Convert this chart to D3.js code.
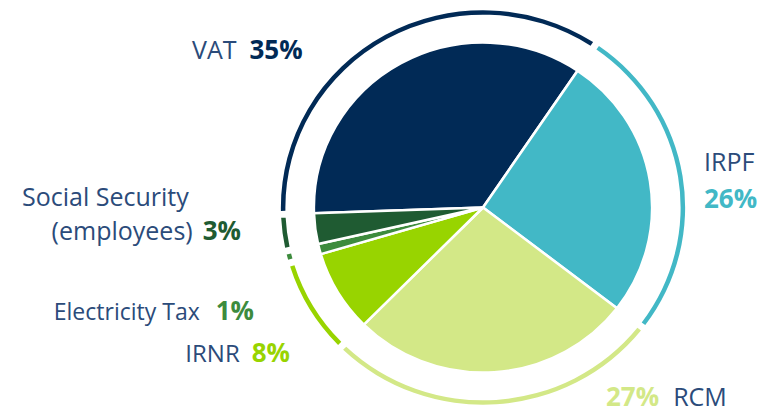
<!DOCTYPE html>
<html>
<head>
<meta charset="utf-8">
<script src="https://cdn.jsdelivr.net/npm/d3@7"></script>
<style>
  html, body { margin: 0; padding: 0; background: #fff; }
  svg { display: block; font-family: 'Open Sans', sans-serif; }
</style>
</head>
<body>
<svg id="chart"></svg>
<script>
// slices, clockwise starting from the VAT slice
const names = ['VAT', 'IRPF', 'RCM', 'IRNR', 'Electricity Tax', 'Social Security'];
const shares = [35, 26, 27, 8, 1, 3];
const colors = ['#012a56', '#42b8c6', '#d3e887', '#98d400', '#3d8b3d', '#1f5b32'];

const width = 776;
const height = 416;
const cx = 483;
const cy = 207.5;
const radius = 165;
const ringRadius = 195;
const stretchX = 1.025; // the original is a touch wider than tall
const startDeg = -92;

const svg = d3.select('#chart').attr('width', width).attr('height', height);
const g = svg.append('g').attr('transform', `translate(${cx}, ${cy}) scale(${stretchX}, 1)`);

const pie = d3.pie()
  .sort(null)
  .value(d => d)
  .startAngle(startDeg * Math.PI / 180)
  .endAngle((startDeg + 360) * Math.PI / 180);
const arcs = pie(shares);

const arc = d3.arc().innerRadius(0).outerRadius(radius);
g.selectAll('path.slice')
  .data(arcs)
  .enter()
  .append('path')
  .attr('class', 'slice')
  .attr('d', arc)
  .attr('fill', (d, i) => colors[i])
  .attr('stroke', '#fff')
  .attr('stroke-width', 2.5)
  .attr('stroke-linejoin', 'round');

// outer ring, one arc per slice with small gaps
const ring = d3.arc()
  .innerRadius(ringRadius - 2.2)
  .outerRadius(ringRadius + 2.2)
  .padAngle(0.025);
g.selectAll('path.ring')
  .data(arcs)
  .enter()
  .append('path')
  .attr('class', 'ring')
  .attr('d', ring)
  .attr('fill', (d, i) => colors[i]);

// labels
const labelColor = '#2b4b7a';

function label(x, y, anchor, parts, size = 25) {
  const t = svg.append('text')
    .attr('x', x)
    .attr('y', y)
    .attr('text-anchor', anchor)
    .attr('font-size', size);
  parts.forEach(p => {
    const s = t.append('tspan').text(p.text).attr('fill', p.color || labelColor);
    if (p.bold) s.attr('font-weight', 700).attr('font-size', 26);
    if (p.dx) s.attr('dx', p.dx);
  });
}

label(192, 59, 'start', [
  { text: names[0] },
  { text: `${shares[0]}%`, bold: true, color: colors[0], dx: 13 }
]);
label(704, 171, 'start', [{ text: names[1] }]);
label(704, 208, 'start', [{ text: `${shares[1]}%`, bold: true, color: colors[1] }]);
label(606, 406, 'start', [
  { text: `${shares[2]}%`, bold: true, color: colors[2] },
  { text: names[2], dx: 14 }
]);
label(290, 362, 'end', [
  { text: names[3] },
  { text: `${shares[3]}%`, bold: true, color: colors[3], dx: 12 }
], 24);
label(254, 320, 'end', [
  { text: names[4] },
  { text: `${shares[4]}%`, bold: true, color: colors[4], dx: 16 }
], 23);
label(22, 206, 'start', [{ text: names[5] }]);
label(241, 240, 'end', [
  { text: '(employees)' },
  { text: `${shares[5]}%`, bold: true, color: colors[5], dx: 10 }
]);
</script>
</body>
</html>
